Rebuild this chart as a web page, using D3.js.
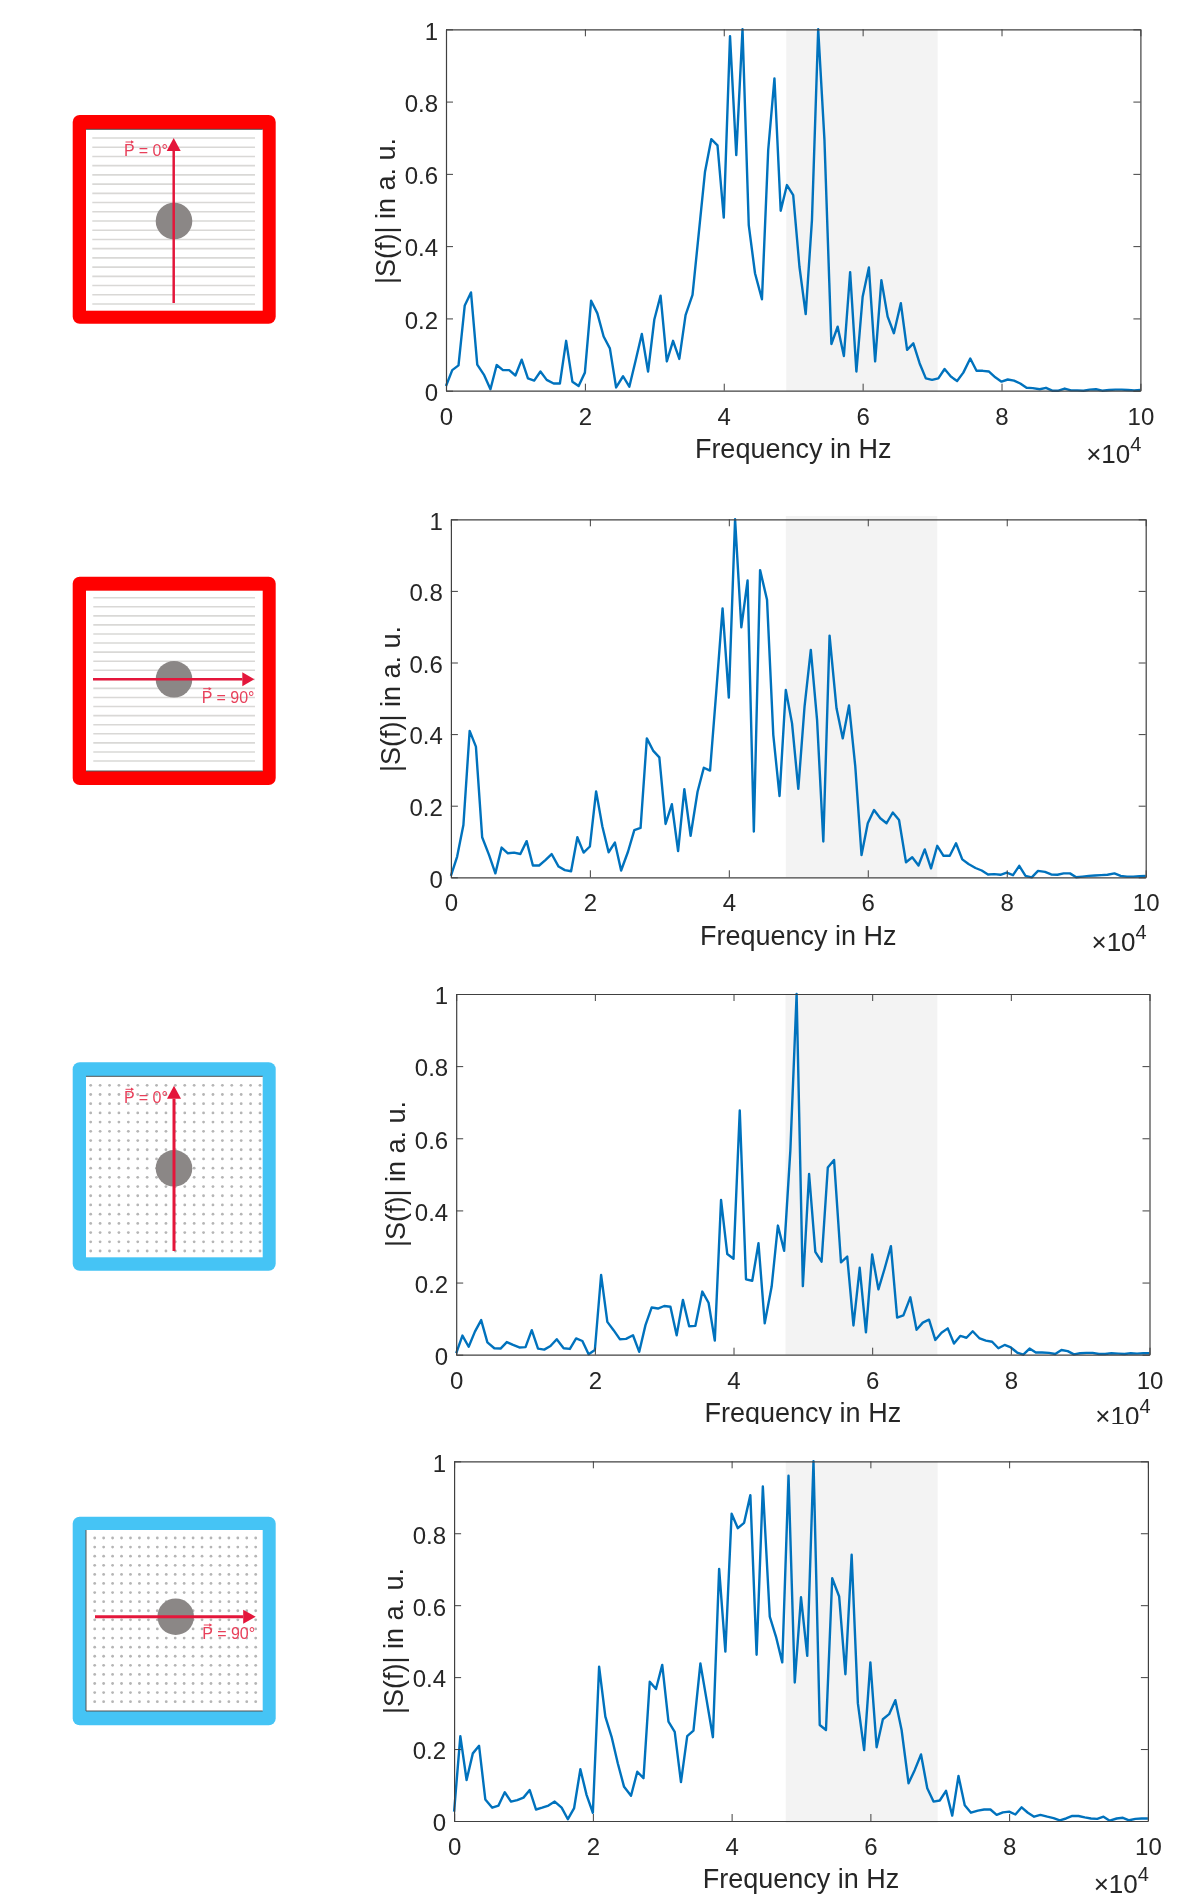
<!DOCTYPE html>
<html>
<head>
<meta charset="utf-8">
<script src="https://cdn.jsdelivr.net/npm/d3@7"></script>
<style>
	html, body { margin: 0; padding: 0; background: #fff; }
	svg { display: block; }
	text { font-family: "Liberation Sans", Arial, sans-serif; }
</style>
</head>
<body>
<div id="container"></div>
<script>
// frequency in units of 10^4 Hz
var freq = [
	0,.09,.18,.27,.36,.45,.55,.64,.73,.82,
	.91,1,1.09,1.18,1.27,1.36,1.45,1.55,1.64,1.73,
	1.82,1.91,2,2.09,2.18,2.27,2.36,2.45,2.55,2.64,
	2.73,2.82,2.91,3,3.09,3.18,3.27,3.36,3.45,3.55,
	3.64,3.73,3.82,3.91,4,4.09,4.18,4.27,4.36,4.45,
	4.55,4.64,4.73,4.82,4.91,5,5.09,5.18,5.27,5.36,
	5.45,5.55,5.64,5.73,5.82,5.91,6,6.09,6.18,6.27,
	6.36,6.45,6.55,6.64,6.73,6.82,6.91,7,7.09,7.18,
	7.27,7.36,7.45,7.55,7.64,7.73,7.82,7.91,8,8.09,
	8.18,8.27,8.36,8.45,8.55,8.64,8.73,8.82,8.91,9,
	9.09,9.18,9.27,9.36,9.45,9.55,9.64,9.73,9.82,9.91,10
];
var spectrum1 = [
	.013,.057,.07,.236,.272,.072,.043,.004,.071,.057,
	.057,.042,.086,.034,.028,.053,.03,.02,.02,.138,
	.025,.013,.05,.249,.214,.15,.117,.009,.04,.011,
	.083,.157,.053,.197,.263,.081,.138,.088,.209,.265,
	.435,.606,.696,.679,.479,.981,.652,1,.458,.325,
	.253,.666,.864,.498,.569,.541,.343,.212,.472,1,
	.694,.129,.177,.096,.328,.053,.26,.341,.081,.306,
	.205,.159,.242,.113,.131,.076,.034,.03,.034,.06,
	.039,.027,.05,.089,.055,.055,.053,.037,.025,.031,
	.028,.02,.008,.007,.004,.008,0,0,.006,.001,
	.001,0,.003,.004,0,.002,.003,.003,.002,.001,.002
];
var spectrum2 = [
	.004,.058,.146,.409,.365,.112,.062,.011,.083,.067,
	.069,.065,.101,.033,.033,.048,.065,.03,.02,.017,
	.112,.069,.086,.24,.142,.07,.097,.019,.072,.132,
	.138,.388,.354,.335,.149,.204,.073,.246,.116,.239,
	.306,.298,.52,.751,.502,1,.698,.829,.128,.858,
	.775,.398,.227,.523,.43,.247,.477,.635,.44,.1,
	.675,.472,.388,.48,.31,.062,.151,.188,.165,.151,
	.181,.16,.042,.056,.033,.078,.025,.088,.06,.06,
	.095,.05,.037,.026,.019,.008,.009,.007,.013,.006,
	.032,.004,0,.018,.015,.008,.007,.011,.011,0,
	.002,.004,.005,.006,.007,.011,.004,.002,.002,.003,.004
];
var spectrum3 = [
	.004,.053,.022,.064,.096,.034,.018,.017,.035,.027,
	.02,.021,.068,.017,.014,.024,.043,.018,.016,.045,
	.038,.001,.013,.221,.091,.068,.043,.044,.054,.008,
	.082,.131,.128,.135,.133,.054,.152,.079,.08,.175,
	.144,.039,.429,.279,.266,.677,.209,.205,.309,.087,
	.189,.358,.288,.567,1,.19,.501,.285,.258,.519,
	.54,.256,.272,.081,.241,.062,.278,.181,.239,.301,
	.103,.109,.159,.069,.089,.097,.041,.061,.073,.031,
	.052,.047,.065,.045,.039,.036,.018,.027,.02,.006,
	0,.017,.006,.006,.005,.002,.013,.01,.001,.004,
	.005,.005,.002,.002,.004,.003,.002,.004,.003,.004,.004
];
var spectrum4 = [
	.026,.236,.114,.188,.209,.06,.037,.043,.08,.054,
	.058,.065,.086,.032,.037,.043,.054,.037,.005,.036,
	.144,.072,.023,.429,.29,.234,.16,.095,.07,.137,
	.119,.387,.367,.434,.276,.248,.108,.236,.251,.438,
	.336,.233,.701,.471,.854,.814,.829,.906,.462,.93,
	.568,.512,.441,.96,.385,.622,.459,1,.267,.253,
	.675,.624,.408,.74,.327,.197,.441,.205,.283,.297,
	.336,.253,.105,.142,.185,.091,.054,.057,.084,.015,
	.125,.044,.023,.029,.032,.032,.017,.024,.026,.018,
	.038,.023,.012,.017,.012,.008,.002,.007,.014,.014,
	.01,.007,.006,.012,.001,.007,.009,.002,.006,.007,.007
];
var bandStart = [4.9, 4.82, 4.75, 4.78];
var bandEnd = [7.08, 7.0, 6.94, 6.97];
var xTicks = [0, 2, 4, 6, 8, 10];
var yTicks = [0, 0.2, 0.4, 0.6, 0.8, 1];
var xLabel = "Frequency in Hz";
var yLabel = "|S(f)| in a. u.";

var width = 1180;
var height = 1899;
var blue = "#0072bd";
var axisColor = "#404040";
var textColor = "#262626";

var spectra = [spectrum1, spectrum2, spectrum3, spectrum4];

// pixel boxes of the four axes
var panels = [
	{left: 446, right: 1140.4, top: 29.3, bottom: 390.7, bandTop: 29.3, bandBottom: 390.7, yLabelX: 395, yLabelY: 211, xLabelDy: 67, expDy: 72, clipY: height},
	{left: 450.9, right: 1145.7, top: 519.3, bottom: 877.3, bandTop: 516, bandBottom: 877.3, yLabelX: 400, yLabelY: 699, xLabelDy: 68, expDy: 74, clipY: height},
	{left: 456.2, right: 1149.5, top: 994, bottom: 1354.7, bandTop: 994, bandBottom: 1354.7, yLabelX: 405, yLabelY: 1174, xLabelDy: 67, expDy: 70, clipY: 1424},
	{left: 454.1, right: 1147.9, top: 1461.3, bottom: 1821, bandTop: 1461.3, bandBottom: 1822.7, yLabelX: 403, yLabelY: 1641, xLabelDy: 67, expDy: 72, clipY: height}
];

var red = "#ff0000";
var sky = "#45c4f5";
var icons = [
	{x0: 72.7, x1: 275.7, y0: 115, y1: 323.7, inY0: 129.3, inY1: 310.7, border: red, hair: "top", kind: "lines",
		gx0: 92.3, gx1: 255, gy0: 138, gy1: 304, cx: 174, cy: 221, dir: "up", ax: 173.7, a0: 303, a1: 138, head: 13, lw: 2.5, tx: 124, ty: 156, label: "P = 0°"},
	{x0: 72.7, x1: 275.7, y0: 576.7, y1: 785, inY0: 590.7, inY1: 771, border: red, hair: "bottom", kind: "lines",
		gx0: 93.3, gx1: 255, gy0: 597.7, gy1: 761, cx: 174, cy: 679.3, dir: "right", ax: 679.3, a0: 93, a1: 254.3, head: 12, lw: 2.5, tx: 201.7, ty: 702.7, label: "P = 90°"},
	{x0: 72.7, x1: 275.7, y0: 1062.3, y1: 1270.7, inY0: 1076.3, inY1: 1257.3, border: sky, hair: "top", kind: "dots",
		gx0: 90.7, gx1: 260, gy0: 1085.3, gy1: 1251, cx: 174, cy: 1168.3, dir: "up", ax: 174, a0: 1251, a1: 1085.7, head: 13, lw: 3, tx: 124, ty: 1103.3, label: "P = 0°"},
	{x0: 72.7, x1: 275.7, y0: 1516.7, y1: 1725.3, inY0: 1530, inY1: 1711, border: sky, hair: "leftbottom", kind: "dots",
		gx0: 94.7, gx1: 255.7, gy0: 1538, gy1: 1701.7, cx: 175.7, cy: 1616.7, dir: "right", ax: 1616.7, a0: 95, a1: 255.7, head: 12.5, lw: 3, tx: 202.3, ty: 1639, label: "P = 90°"}
];

var svg = d3.select("#container").append("svg").attr("width", width).attr("height", height);
var defs = svg.append("defs");
defs.append("filter").attr("id", "soft").append("feGaussianBlur").attr("stdDeviation", 0.5);
defs.append("filter").attr("id", "softer").append("feGaussianBlur").attr("stdDeviation", 0.3);

panels.forEach(function(p, i) { drawPanel(p, i); });
icons.forEach(function(ic) { drawIcon(ic); });

function drawPanel(p, i)
{
	var g = svg.append("g").attr("filter", "url(#softer)");
	var x = d3.scaleLinear().domain([0, 10]).range([p.left, p.right]);
	var y = d3.scaleLinear().domain([0, 1]).range([p.bottom, p.top]);

	g.append("rect")
		.attr("x", x(bandStart[i]))
		.attr("width", x(bandEnd[i]) - x(bandStart[i]))
		.attr("y", p.bandTop)
		.attr("height", p.bandBottom - p.bandTop)
		.attr("fill", "#f3f3f3");

	var line = d3.line().x(function(d) { return x(d[0]); }).y(function(d) { return y(d[1]); });
	g.append("path")
		.datum(d3.zip(freq, spectra[i]))
		.attr("d", line)
		.attr("fill", "none")
		.attr("stroke", blue)
		.attr("stroke-width", 2.4)
		.attr("stroke-linejoin", "round");

	// MATLAB style box: ticks point inwards on all four sides
	axisStyle(g.append("g").attr("transform", "translate(0," + p.bottom + ")")
		.call(d3.axisBottom(x).tickValues(xTicks).tickFormat(String).tickSizeInner(-7).tickSizeOuter(0).tickPadding(17)));
	axisStyle(g.append("g").attr("transform", "translate(0," + p.top + ")")
		.call(d3.axisTop(x).tickValues(xTicks).tickFormat("").tickSizeInner(-7).tickSizeOuter(0)));
	var left = g.append("g").attr("transform", "translate(" + p.left + ",0)")
		.call(d3.axisLeft(y).tickValues(yTicks).tickFormat(String).tickSizeInner(-7).tickSizeOuter(0).tickPadding(8));
	axisStyle(left);
	left.selectAll("text").attr("dy", "0.41em");
	axisStyle(g.append("g").attr("transform", "translate(" + p.right + ",0)")
		.call(d3.axisRight(y).tickValues(yTicks).tickFormat("").tickSizeInner(-7).tickSizeOuter(0)));

	var clipId = "clip" + i;
	defs.append("clipPath").attr("id", clipId).append("rect")
		.attr("x", 0).attr("y", 0).attr("width", width).attr("height", p.clipY);
	var labels = g.append("g").attr("clip-path", "url(#" + clipId + ")");

	labels.append("text")
		.attr("x", (p.left + p.right) / 2)
		.attr("y", p.bottom + p.xLabelDy)
		.attr("text-anchor", "middle")
		.attr("font-size", 27)
		.attr("fill", textColor)
		.text(xLabel);

	var exp = labels.append("text")
		.attr("x", p.right + 1)
		.attr("y", p.bottom + p.expDy)
		.attr("text-anchor", "end")
		.attr("font-size", 26)
		.attr("fill", textColor);
	exp.append("tspan").text("×10");
	exp.append("tspan").attr("font-size", 20).attr("dy", -12).text("4");

	g.append("text")
		.attr("transform", "translate(" + p.yLabelX + "," + p.yLabelY + ") rotate(-90)")
		.attr("text-anchor", "middle")
		.attr("font-size", 27)
		.attr("fill", textColor)
		.text(yLabel);
}

function axisStyle(sel)
{
	sel.select(".domain").attr("stroke", axisColor).attr("stroke-width", 1.2);
	sel.selectAll(".tick line").attr("stroke", axisColor).attr("stroke-width", 1);
	sel.selectAll("text").attr("font-size", 24).attr("fill", textColor)
		.attr("font-family", '"Liberation Sans", Arial, sans-serif');
}

function drawIcon(ic)
{
	var g = svg.append("g").attr("filter", "url(#soft)");
	var inX0 = 86, inX1 = 262.7;

	g.append("rect").attr("x", ic.x0).attr("y", ic.y0)
		.attr("width", ic.x1 - ic.x0).attr("height", ic.y1 - ic.y0)
		.attr("rx", 7).attr("fill", ic.border);
	g.append("rect").attr("x", inX0).attr("y", ic.inY0)
		.attr("width", inX1 - inX0).attr("height", ic.inY1 - ic.inY0)
		.attr("fill", "#fff");

	// thin dark edge left over from the source image
	if (ic.hair == "top")
		hairline(g, inX0, ic.inY0, inX1, ic.inY0);
	if (ic.hair == "bottom" || ic.hair == "leftbottom")
		hairline(g, inX0, ic.inY1, inX1, ic.inY1);
	if (ic.hair == "leftbottom")
		hairline(g, inX0, ic.inY0, inX0, ic.inY1);

	var rows = d3.scaleLinear().domain([0, 18]).range([ic.gy0, ic.gy1]);
	var cols = d3.scaleLinear().domain([0, 18]).range([ic.gx0, ic.gx1]);
	var idx = d3.range(19);

	if (ic.kind == "lines")
	{
		g.selectAll(".rib").data(idx).enter().append("line")
			.attr("x1", ic.gx0).attr("x2", ic.gx1)
			.attr("y1", rows).attr("y2", rows)
			.attr("stroke", "#d9d8d6").attr("stroke-width", 1.6);
	}
	else
	{
		var grid = d3.cross(idx, idx);
		g.selectAll(".dot").data(grid).enter().append("circle")
			.attr("cx", function(d) { return cols(d[0]); })
			.attr("cy", function(d) { return rows(d[1]); })
			.attr("r", 1.4)
			.attr("fill", "#b5b5b5");
	}

	g.append("circle").attr("cx", ic.cx).attr("cy", ic.cy).attr("r", 18.3).attr("fill", "#8b8786");

	var arrowColor = "#e4173a";
	var hw = 7;
	if (ic.dir == "up")
	{
		g.append("line").attr("x1", ic.ax).attr("x2", ic.ax).attr("y1", ic.a0).attr("y2", ic.a1 + ic.head)
			.attr("stroke", arrowColor).attr("stroke-width", ic.lw);
		g.append("path").attr("fill", arrowColor)
			.attr("d", d3.line()([[ic.ax, ic.a1], [ic.ax + hw, ic.a1 + ic.head], [ic.ax - hw, ic.a1 + ic.head]]) + "Z");
	}
	else
	{
		g.append("line").attr("y1", ic.ax).attr("y2", ic.ax).attr("x1", ic.a0).attr("x2", ic.a1 - ic.head)
			.attr("stroke", arrowColor).attr("stroke-width", ic.lw);
		g.append("path").attr("fill", arrowColor)
			.attr("d", d3.line()([[ic.a1, ic.ax], [ic.a1 - ic.head, ic.ax - hw], [ic.a1 - ic.head, ic.ax + hw]]) + "Z");
	}

	g.append("text").attr("x", ic.tx).attr("y", ic.ty)
		.attr("font-size", 16).attr("fill", "#e8405a").text(ic.label);
	// vector arrow over the P
	var vy = ic.ty - 14;
	g.append("line").attr("x1", ic.tx + 1.5).attr("x2", ic.tx + 8).attr("y1", vy).attr("y2", vy)
		.attr("stroke", "#e8405a").attr("stroke-width", 1);
	g.append("path").attr("fill", "#e8405a")
		.attr("d", d3.line()([[ic.tx + 10, vy], [ic.tx + 7, vy - 1.8], [ic.tx + 7, vy + 1.8]]) + "Z");
}

function hairline(g, x1, y1, x2, y2)
{
	g.append("line").attr("x1", x1).attr("y1", y1).attr("x2", x2).attr("y2", y2)
		.attr("stroke", "#555").attr("stroke-width", 1);
}
</script>
</body>
</html>
